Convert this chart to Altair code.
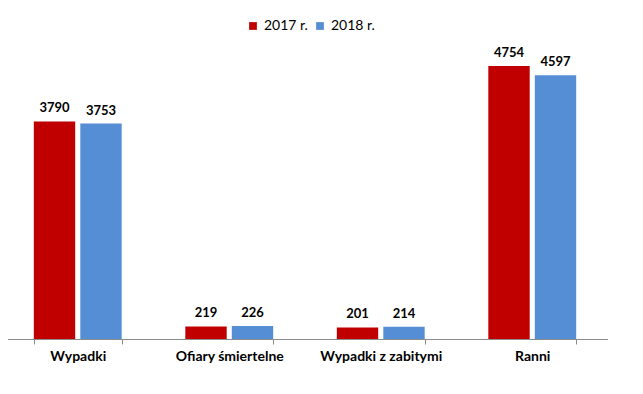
import altair as alt
import pandas as pd

categories = ["Wypadki", "Ofiary śmiertelne", "Wypadki z zabitymi", "Ranni"]
years = ["2017 r.", "2018 r."]
v2017 = [3790, 219, 201, 4754]
v2018 = [3753, 226, 214, 4597]
colors = ["#C00000", "#558ED5"]

rows = []
for c, a, b in zip(categories, v2017, v2018):
    rows.append({"kategoria": c, "rok": years[0], "wartosc": a})
    rows.append({"kategoria": c, "rok": years[1], "wartosc": b})
df = pd.DataFrame(rows)

FONT = "Lato"

base = alt.Chart(df).encode(
    x=alt.X("kategoria:N", sort=categories,
            scale=alt.Scale(paddingInner=0.42, paddingOuter=0.21),
            axis=alt.Axis(title=None, labelAngle=0, labelFont=FONT, labelFontWeight="bold",
                          labelFontSize=14, labelColor="#000000", domainColor="#8c8c8c",
                          tickColor="#8c8c8c", tickBand="extent", tickSize=5,
                          labelPadding=5, grid=False)),
    xOffset=alt.XOffset("rok:N", sort=years, scale=alt.Scale(paddingInner=0.11)),
    y=alt.Y("wartosc:Q", scale=alt.Scale(domain=[0, 5000]), axis=None),
)

bars = base.mark_bar().encode(
    color=alt.Color("rok:N", sort=years,
                    scale=alt.Scale(domain=years, range=colors),
                    legend=alt.Legend(title=None, orient="none", direction="horizontal",
                                      legendX=244, legendY=-33, symbolType="square",
                                      symbolSize=60, symbolStrokeWidth=0,
                                      labelFont=FONT, labelFontSize=14, labelColor="#000000",
                                      columnPadding=5, labelOffset=4, padding=0))
)

labels = base.mark_text(baseline="bottom", dy=-6, font=FONT, fontWeight="bold",
                        fontSize=13, color="#000000").encode(text="wartosc:Q")

chart = alt.layer(bars, labels).properties(
    width=606, height=287,
    autosize=alt.AutoSizeParams(type="none"),
    padding={"left": -6, "top": 44, "right": 0, "bottom": 50},
).configure_view(stroke=None)

chart.save("out.html", embed_options={"renderer": "svg", "actions": False})
